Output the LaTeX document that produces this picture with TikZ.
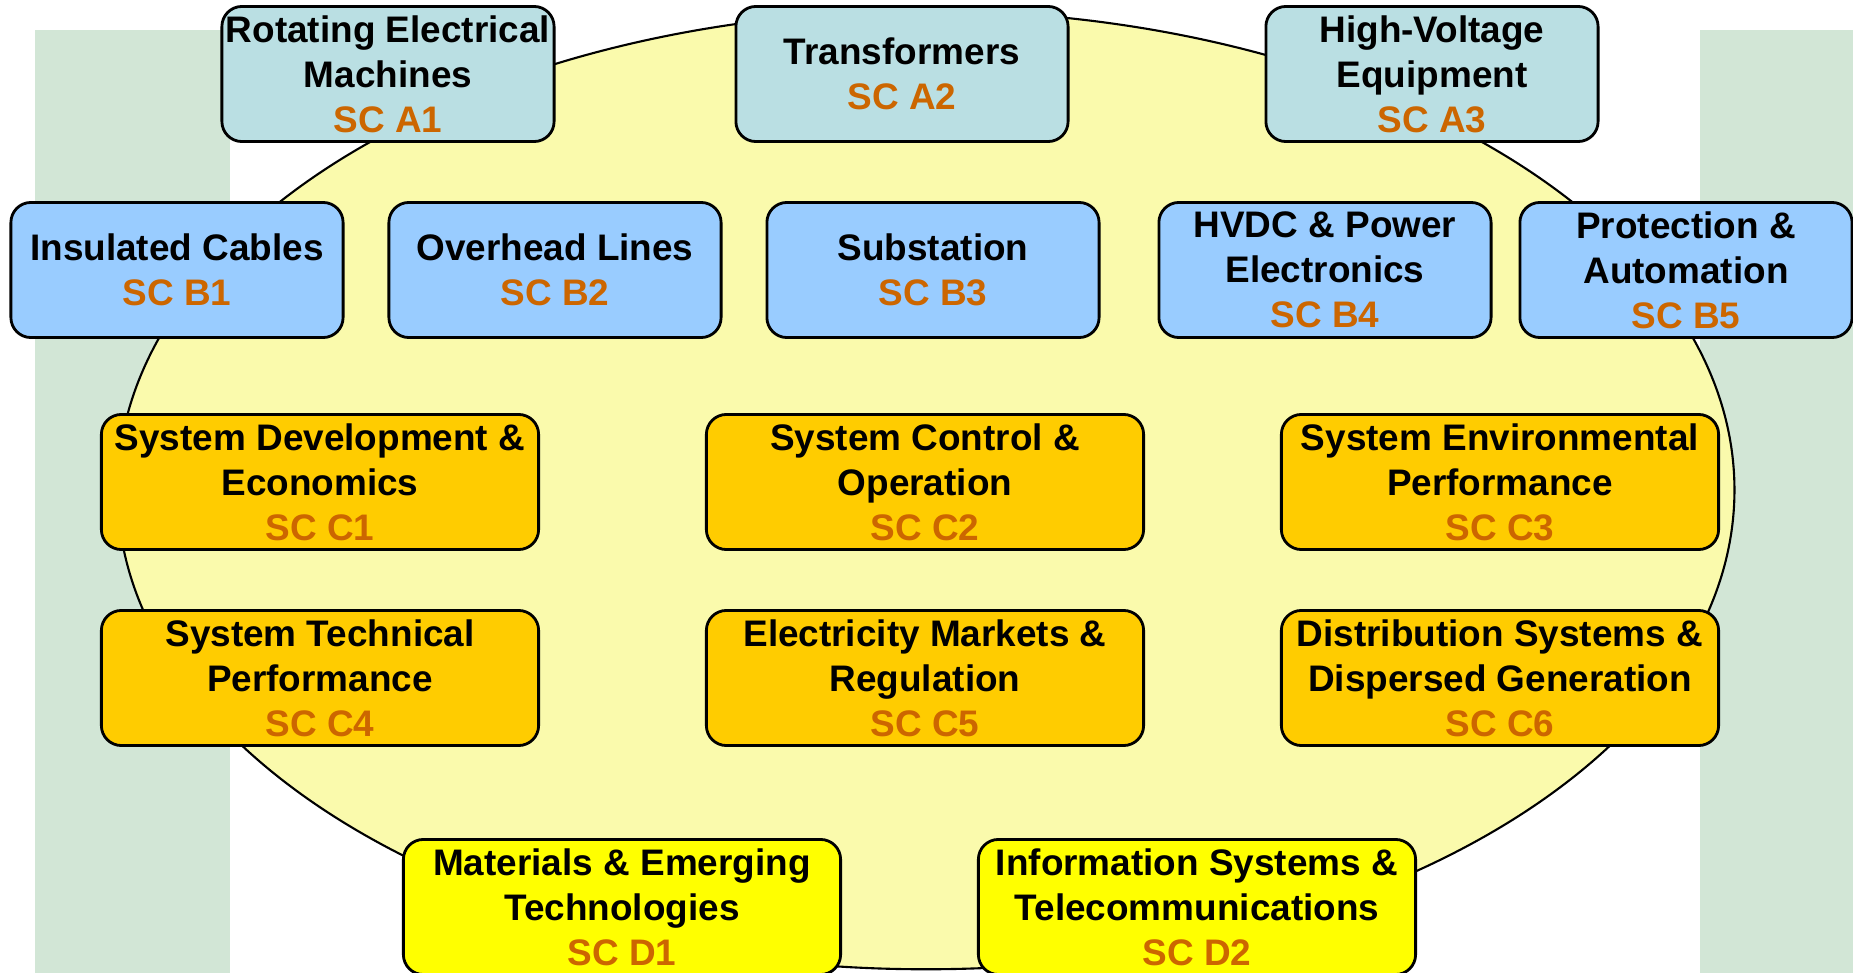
\documentclass[tikz,border=0pt]{standalone}
\usepackage{fontspec}
\setmainfont{Liberation Sans}

\definecolor{bggreen}{RGB}{210,230,214}
\definecolor{ovalcol}{RGB}{250,250,172}
\definecolor{acol}{RGB}{186,223,227}
\definecolor{bcol}{RGB}{153,204,255}
\definecolor{ccol}{RGB}{255,204,0}
\definecolor{dcol}{RGB}{255,255,0}
\definecolor{scorange}{RGB}{204,102,0}

\newcommand{\scnum}[1]{\textcolor{scorange}{#1}}

\begin{document}
\begin{tikzpicture}[x=0.01cm,y=-0.01cm,
    every node/.style={draw,thick,rounded corners=0.2cm,align=center,inner sep=0pt,
      font=\bfseries\fontsize{10.5}{12.8}\selectfont},
    abox/.style={fill=acol,minimum width=3.32cm,minimum height=1.35cm},
    bbox/.style={fill=bcol,minimum width=3.32cm,minimum height=1.35cm},
    cbox/.style={fill=ccol,minimum width=4.37cm,minimum height=1.35cm},
    dbox/.style={fill=dcol,minimum width=4.37cm,minimum height=1.35cm}]
    \useasboundingbox (0,0) rectangle (1853,973);
    \fill[bggreen] (35,30) rectangle (230,973);
    \fill[bggreen] (1700,30) rectangle (1853,973);
    \draw[fill=ovalcol,line width=0.6pt] (926,490) ellipse [x radius=8.08cm, y radius=4.79cm];

    \node[abox] (A1) at (388,74) {Rotating Electrical\\Machines\\\scnum{SC A1}};
    \node[abox] (A2) at (902,74) {Transformers\\\scnum{SC A2}};
    \node[abox] (A3) at (1432,74) {High-Voltage\\Equipment\\\scnum{SC A3}};

    \node[bbox] (B1) at (177,270) {Insulated Cables\\\scnum{SC B1}};
    \node[bbox] (B2) at (555,270) {Overhead Lines\\\scnum{SC B2}};
    \node[bbox] (B3) at (933,270) {Substation\\\scnum{SC B3}};
    \node[bbox] (B4) at (1325,270) {HVDC \& Power\\Electronics\\\scnum{SC B4}};
    \node[bbox] (B5) at (1686,270) {Protection \&\\Automation\\\scnum{SC B5}};

    \node[cbox] (C1) at (320,482) {System Development \&\\Economics\\\scnum{SC C1}};
    \node[cbox] (C2) at (925,482) {System Control \&\\Operation\\\scnum{SC C2}};
    \node[cbox] (C3) at (1500,482) {System Environmental\\Performance\\\scnum{SC C3}};
    \node[cbox] (C4) at (320,678) {System Technical\\Performance\\\scnum{SC C4}};
    \node[cbox] (C5) at (925,678) {Electricity Markets \&\\Regulation\\\scnum{SC C5}};
    \node[cbox] (C6) at (1500,678) {Distribution Systems \&\\Dispersed Generation\\\scnum{SC C6}};

    \node[dbox] (D1) at (622,907) {Materials \& Emerging\\Technologies\\\scnum{SC D1}};
    \node[dbox] (D2) at (1197,907) {Information Systems \&\\Telecommunications\\\scnum{SC D2}};
  \end{tikzpicture}
\end{document}
